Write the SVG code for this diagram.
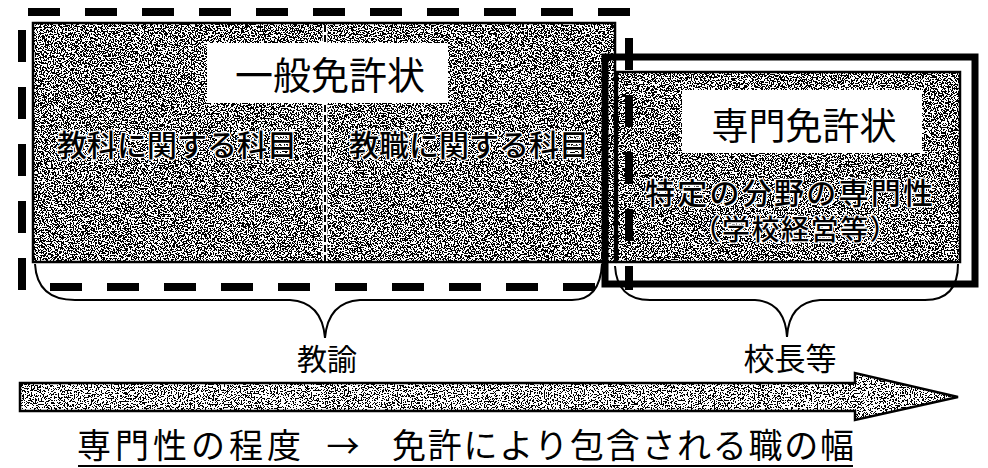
<svg xmlns="http://www.w3.org/2000/svg" width="988" height="468" viewBox="0 0 988 468">
<defs>
<filter id="noise" filterUnits="objectBoundingBox" x="0" y="0" width="1" height="1">
<feTurbulence type="fractalNoise" baseFrequency="0.7" numOctaves="2" seed="7" result="t"/>
<feColorMatrix in="t" type="matrix" values="1 0 0 0 0  1 0 0 0 0  1 0 0 0 0  0 0 0 0 1" result="g"/>
<feComponentTransfer in="g">
<feFuncR type="discrete" tableValues="0 1"/>
<feFuncG type="discrete" tableValues="0 1"/>
<feFuncB type="discrete" tableValues="0 1"/>
</feComponentTransfer>
</filter>
<filter id="noiseLight" filterUnits="objectBoundingBox" x="0" y="0" width="1" height="1">
<feTurbulence type="fractalNoise" baseFrequency="0.7" numOctaves="2" seed="11" result="t"/>
<feColorMatrix in="t" type="matrix" values="1 0 0 0 0  1 0 0 0 0  1 0 0 0 0  0 0 0 0 1" result="g"/>
<feComponentTransfer in="g">
<feFuncR type="discrete" tableValues="0 0 0 0 0 0 0 0 0 1 1 1 1 1 1 1 1 1 1 1"/>
<feFuncG type="discrete" tableValues="0 0 0 0 0 0 0 0 0 1 1 1 1 1 1 1 1 1 1 1"/>
<feFuncB type="discrete" tableValues="0 0 0 0 0 0 0 0 0 1 1 1 1 1 1 1 1 1 1 1"/>
</feComponentTransfer>
</filter>
<clipPath id="arrowClip">
<polygon points="20,383 855,383 855,373 958,397 855,420 855,411 20,411"/>
</clipPath>
</defs>
<style>
.t{font-family:"Noto Sans CJK JP","Noto Sans CJK SC",sans-serif;fill:#000;text-anchor:middle}
.on{font-weight:500;stroke:#fff;stroke-width:2.5;stroke-linejoin:round;paint-order:stroke fill}
.border{fill:none;stroke:#000;stroke-width:2.5}
.dash{stroke:#000;stroke-width:8;fill:none}
.brace{fill:none;stroke:#000;stroke-width:2}
.label{fill:#fff}
</style>
<rect width="988" height="468" fill="#fff"/>

<g id="node-general">
<rect x="33" y="23" width="582" height="239" fill="#888" filter="url(#noise)"/>
<rect class="border" x="33" y="23" width="582" height="239"/>
<line x1="325" y1="25" x2="325" y2="261" stroke="#fff" stroke-width="5"/>
<line x1="325" y1="25" x2="325" y2="261" stroke="#000" stroke-width="2" stroke-dasharray="7 3"/>
<rect class="label" x="207" y="43" width="241" height="60"/>
<text class="t" x="330" y="89" font-size="38">一般免許状</text>
<text class="t on" x="177" y="156" font-size="30">教科に関する科目</text>
<text class="t on" x="469" y="156" font-size="30">教職に関する科目</text>
</g>

<g id="node-special">
<rect x="617" y="72" width="343" height="190" fill="#888" filter="url(#noise)"/>
<rect class="border" x="617" y="72" width="343" height="190" stroke-width="2"/>
<rect class="label" x="682" y="90" width="240" height="63"/>
<text class="t" x="804" y="140" font-size="37">専門免許状</text>
<text class="t on" x="789" y="204" font-size="30" textLength="288" lengthAdjust="spacing">特定の分野の専門性</text>
<text class="t on" x="795" y="240" font-size="28" textLength="205" lengthAdjust="spacing">（学校経営等）</text>
<rect x="605" y="57" width="370" height="227" fill="none" stroke="#000" stroke-width="7"/>
</g>

<g id="dashed-frame">
<line class="dash" x1="28" y1="12" x2="630" y2="12" stroke-dasharray="32 25"/>
<line class="dash" x1="22" y1="30" x2="22" y2="290" stroke-dasharray="32 25"/>
<line class="dash" x1="50" y1="287" x2="598" y2="287" stroke-dasharray="32 25"/>
<line class="dash" x1="629" y1="38" x2="629" y2="290" stroke-dasharray="32 25"/>
</g>

<g id="connectors">
<path class="brace" d="M35,264 Q37,300 75,300 L290,300 Q322,302 325,338 Q328,302 360,300 L572,300 Q600,300 602,264"/>
<path class="brace" d="M615,266 Q617,300 650,300 L755,300 Q785,302 787,337 Q789,302 820,300 L925,300 Q958,300 958,264"/>
</g>

<g id="node-teacher">
<text class="t" x="327" y="370" font-size="30">教諭</text>
</g>
<g id="node-principal">
<text class="t" x="790" y="370" font-size="31">校長等</text>
</g>

<g id="scale-arrow">
<g clip-path="url(#arrowClip)">
<rect x="20" y="373" width="938" height="47" fill="#ccc" filter="url(#noiseLight)"/>
</g>
<polygon points="20,383 855,383 855,373 958,397 855,420 855,411 20,411" fill="none" stroke="#000" stroke-width="2.5" stroke-linejoin="miter"/>
</g>

<g id="caption">
<text class="t" x="189" y="458" font-size="34" textLength="224" lengthAdjust="spacing">専門性の程度</text>
<text class="t" x="343" y="458" font-size="33">→</text>
<text class="t" x="623" y="458" font-size="34" textLength="462" lengthAdjust="spacing">免許により包含される職の幅</text>
<line x1="78" y1="466" x2="853" y2="466" stroke="#000" stroke-width="2"/>
</g>
</svg>
